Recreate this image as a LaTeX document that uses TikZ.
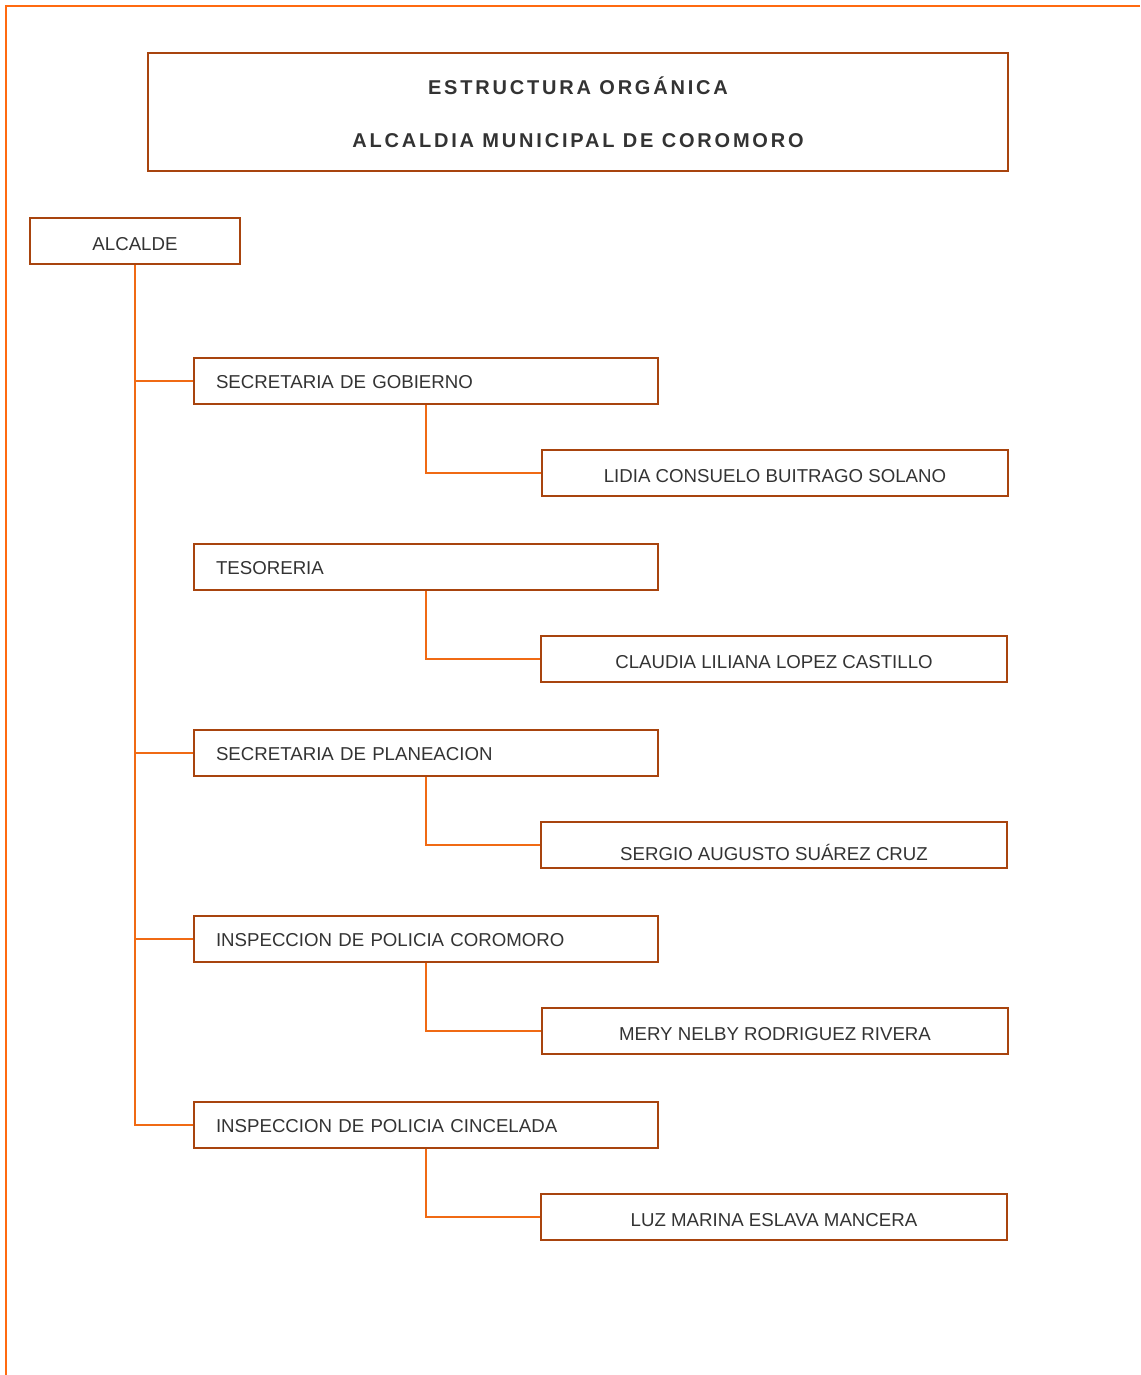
\documentclass[tikz,border=0pt]{standalone}
\usepackage{fontspec}
\setmainfont{Liberation Sans}
\usetikzlibrary{positioning}
\definecolor{marco}{HTML}{FF6A10}
\definecolor{borde}{HTML}{A8440E}
\definecolor{linea}{HTML}{F06A14}
\definecolor{texto}{HTML}{333333}
\tikzset{caja/.style={draw=borde, line width=1.5pt, minimum height=34.5pt, text=texto, text height=14pt, text depth=0pt, font=\fontsize{14}{16}\selectfont}}
\tikzset{dep/.style={caja, text height=11.5pt, inner xsep=16.5pt, text width=315pt, align=left}}
\tikzset{func/.style={caja, minimum width=349.5pt}}
\tikzset{conn/.style={draw=linea, line width=1.5pt}}

\begin{document}
\begin{tikzpicture}[x=0.75pt, y=-0.75pt]
	\useasboundingbox (0,0) rectangle (1140,1375);
	\draw[marco, line width=1.6pt] (1140,6) -- (6,6) -- (6,1375);
	
	\node[caja, minimum width=645pt, minimum height=88.5pt, align=center, text height=, text depth=,
	font=\fontsize{15}{17}\selectfont\bfseries\addfontfeatures{LetterSpace=14}] (tit) at (578,112)
	{ESTRUCTURA ORGÁNICA\\[23pt]ALCALDIA MUNICIPAL DE COROMORO};
	
	\node[caja, minimum width=157.5pt] (alc) at (135,241){ALCALDE};
	
	\node[dep] (gob) at (426,381){SECRETARIA DE GOBIERNO};
	\node[dep] (tes) at (426,567){TESORERIA};
	\node[dep] (pla) at (426,753){SECRETARIA DE PLANEACION};
	\node[dep] (ico) at (426,939){INSPECCION DE POLICIA COROMORO};
	\node[dep] (ici) at (426,1125){INSPECCION DE POLICIA CINCELADA};
	
	\node[func] (lid) at (775,473){LIDIA CONSUELO BUITRAGO SOLANO};
	\node[func] (cla) at (774,659){CLAUDIA LILIANA LOPEZ CASTILLO};
	\node[func, text height=23pt] (ser) at (774,845){SERGIO AUGUSTO SUÁREZ CRUZ};
	\node[func] (mer) at (775,1031){MERY NELBY RODRIGUEZ RIVERA};
	\node[func] (luz) at (774,1217){LUZ MARINA ESLAVA MANCERA};
	
	% tronco del alcalde
	\draw[conn] (alc.south) |- (ici.west);
	\draw[conn] (alc.south |- gob.west) -- (gob.west);
	\draw[conn] (alc.south |- pla.west) -- (pla.west);
	\draw[conn] (alc.south |- ico.west) -- (ico.west);
	
	% responsables
	\draw[conn] (gob.south) |- (lid.west);
	\draw[conn] (tes.south) |- (cla.west);
	\draw[conn] (pla.south) |- (ser.west);
	\draw[conn] (ico.south) |- (mer.west);
	\draw[conn] (ici.south) |- (luz.west);
\end{tikzpicture}
\end{document}
